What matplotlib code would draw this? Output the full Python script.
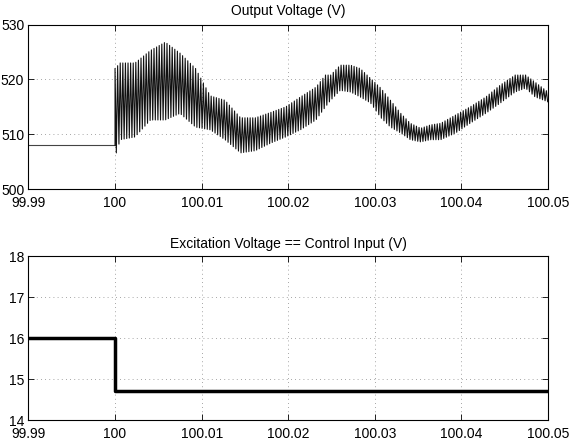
import numpy as np
import matplotlib
matplotlib.use("Agg")
import matplotlib.pyplot as plt

plt.rcParams['font.family'] = ['Liberation Sans', 'DejaVu Sans']

# ---- data ----
t_pre = [99.99, 100.0]
v_pre = [508.0, 508.0]

# envelope of the output voltage ripple (time, upper, lower)
t_env = [100.0000, 100.0006, 100.0023, 100.0041, 100.0058, 100.0075, 100.0093,
         100.0110, 100.0127, 100.0145, 100.0162, 100.0180, 100.0197, 100.0214,
         100.0232, 100.0243, 100.0249, 100.0260, 100.0272, 100.0283, 100.0295,
         100.0307, 100.0318, 100.0330, 100.0341, 100.0353, 100.0364, 100.0376,
         100.0393, 100.0410, 100.0428, 100.0445, 100.0462, 100.0474, 100.0485,
         100.0500]
v_upper = [522.0, 523.0, 523.0, 525.3, 526.8, 524.8, 522.0,
           517.0, 516.2, 513.0, 513.0, 514.0, 515.0, 516.8,
           518.6, 520.8, 520.8, 522.6, 522.6, 522.0, 520.2,
           518.4, 516.2, 513.8, 512.0, 511.1, 511.7, 512.0,
           513.5, 515.0, 516.8, 519.0, 520.8, 520.8, 519.5,
           517.7]
v_lower = [505.8, 509.0, 509.5, 512.6, 512.6, 513.8, 511.3,
           510.8, 509.0, 506.6, 507.0, 508.4, 509.5, 510.8,
           512.6, 515.0, 516.2, 518.0, 517.7, 516.8, 515.7,
           513.0, 511.3, 510.2, 509.0, 508.6, 509.0, 509.0,
           510.2, 512.0, 513.8, 515.7, 517.7, 518.4, 516.8,
           515.9]

t_exc = [99.99, 100.0, 100.0, 100.05]
v_exc = [16.0, 16.0, 14.72, 14.72]

xticks = [99.99, 100, 100.01, 100.02, 100.03, 100.04, 100.05]
xticklabels = ['99.99', '100', '100.01', '100.02', '100.03', '100.04', '100.05']

# ---- build the ripple trace from the read envelope ----
half_period = 0.00015
t_osc = np.arange(t_env[0], t_env[-1] + 1e-9, half_period)
up = np.interp(t_osc, t_env, v_upper)
lo = np.interp(t_osc, t_env, v_lower)
v_osc = np.where(np.arange(len(t_osc)) % 2 == 0, up, lo)
t_all = np.concatenate([t_pre, t_osc])
v_all = np.concatenate([v_pre, v_osc])

fig = plt.figure(figsize=(5.8, 4.47), dpi=100)
ax1 = fig.add_axes([0.049, 0.577, 0.896, 0.368])
ax2 = fig.add_axes([0.049, 0.060, 0.896, 0.367])

ax1.plot(t_pre, v_pre, color='#444444', lw=0.8)
ax1.plot(t_all[1:], v_all[1:], color='#111111', lw=0.8)
ax1.set_ylim(500, 530)
ax1.set_yticks([500, 510, 520, 530])
ax1.set_title('Output Voltage (V)', fontsize=10, pad=7)

ax2.plot(t_exc, v_exc, color='black', lw=2.5)
ax2.set_ylim(14, 18)
ax2.set_yticks([14, 15, 16, 17, 18])
ax2.set_title('Excitation Voltage == Control Input (V)', fontsize=10, pad=6)

for ax in (ax1, ax2):
    ax.set_xlim(99.99, 100.05)
    ax.set_xticks(xticks)
    ax.set_xticklabels(xticklabels)
    ax.tick_params(direction='in', top=True, right=True, labelsize=10,
                   length=4, width=0.6)
    ax.tick_params(axis='x', pad=5)
    ax.tick_params(axis='y', pad=3)
    ax.grid(True, linestyle=(0, (1, 4)), color='#888888', lw=0.6)
    for s in ax.spines.values():
        s.set_linewidth(0.8)

fig.savefig('out.png', dpi=100)
